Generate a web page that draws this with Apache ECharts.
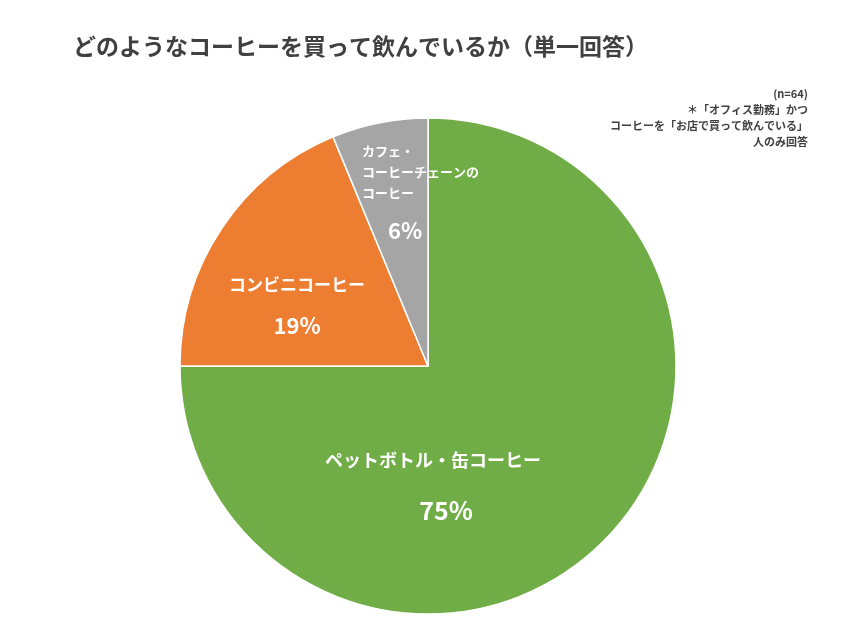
<!DOCTYPE html>
<html><head><meta charset="utf-8">
<script src="https://cdn.jsdelivr.net/npm/echarts@6/dist/echarts.min.js"></script>
<style>html,body{margin:0;padding:0;background:#fff}#c{width:853px;height:640px}</style>
</head><body><div id="c"></div>
<script>
const categories = ['ペットボトル・缶コーヒー', 'コンビニコーヒー', 'カフェ・\nコーヒーチェーンの\nコーヒー'];
const values = [48, 12, 4];
const colors = ['#70AD47', '#ED7D31', '#A5A5A5'];
const total = values.reduce((a, b) => a + b, 0);
const pct = values.map(v => Math.round(v / total * 100) + '%');
const F = '"Noto Sans CJK JP","Noto Sans",sans-serif';
const chart = echarts.init(document.getElementById('c'));
const T = (x, y, text, font, align, extra) => ({type: 'text', x, y, z: 100, zlevel: 1,
  style: Object.assign({text, align, verticalAlign: 'middle', font: font + ' ' + F, fill: '#fff'}, extra || {})});
chart.setOption({
  animation: false,
  title: {text: 'どのようなコーヒーを買って飲んでいるか（単一回答）', left: 68, top: 30,
    textStyle: {fontFamily: F, fontSize: 23, fontWeight: 'bold', color: '#404040'}},
  series: [{
    type: 'pie', center: [428, 366], radius: 248, startAngle: 90, clockwise: true,
    label: {show: false}, labelLine: {show: false},
    itemStyle: {borderColor: '#fff', borderWidth: 1.5},
    data: categories.map((n, i) => ({name: n, value: values[i], itemStyle: {color: colors[i]}}))
  }],
  graphic: [
    T(808, 118, '(n=64)\n＊「オフィス勤務」かつ\nコーヒーを「お店で買って飲んでいる」\n人のみ回答', 'bold 11px', 'right', {fill: '#404040', lineHeight: 16}),
    T(433, 460, categories[0], 'bold 18px', 'center'),
    T(446, 510, pct[0], 'bold 25px', 'center'),
    T(297, 285, categories[1], 'bold 17px', 'center'),
    T(297, 326, pct[1], 'bold 22px', 'center'),
    T(362, 172, categories[2], 'bold 13px', 'left', {lineHeight: 21}),
    T(405, 231, pct[2], 'bold 22px', 'center')
  ]
});
</script></body></html>
